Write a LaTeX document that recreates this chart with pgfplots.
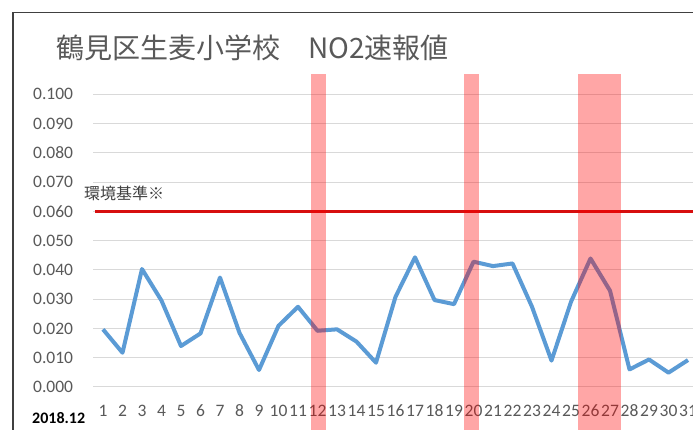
\documentclass[border=0pt]{standalone}
\usepackage{fontspec}
\setmainfont{Carlito}
\newfontfamily\cjk{Noto Sans CJK JP}
\usepackage{pgfplots}
\pgfplotsset{compat=1.18}
\definecolor{tickgray}{HTML}{595959}
\definecolor{gridgray}{HTML}{D9D9D9}
\definecolor{lineblue}{HTML}{5B9BD5}
\definecolor{limred}{RGB}{215,15,15}
\definecolor{framegray}{HTML}{404040}
\begin{document}
\begin{tikzpicture}[x=1pt,y=1pt]
\path[use as bounding box, clip] (0pt,0pt) rectangle (693pt,430pt);
\fill[white] (0pt,0pt) rectangle (693pt,430pt);
\begin{axis}[
  at={(93.25pt,0pt)}, anchor=south west,
  scale only axis, width=604.5pt, height=365pt,
  xmin=0.5, xmax=31.5, ymin=-0.01469, ymax=0.11,
  axis line style={draw=none},
  major tick length=0pt,
  xtick={1,...,31},
  ytick={0,0.01,0.02,0.03,0.04,0.05,0.06,0.07,0.08,0.09,0.1},
  ymajorgrids, grid style={gridgray, line width=1pt},
  /pgf/number format/assume math mode=true,
  yticklabel style={/pgf/number format/fixed, /pgf/number format/fixed zerofill, /pgf/number format/precision=3, anchor=east, inner sep=0pt, xshift=-20pt},
  ticklabel style={font=\fontsize{17.5}{20}\selectfont, text=tickgray},
  xticklabel style={anchor=center, inner sep=0pt, yshift=19pt},
  clip=true,
]
\addplot[limred, line width=3pt, forget plot] coordinates {(0.58,0.06) (31.5,0.06)};
\addplot[lineblue, line width=4pt, line join=round, mark=none] coordinates {
(1,0.0197) (2,0.0117) (3,0.0403) (4,0.0295) (5,0.0140) (6,0.0183) (7,0.0374)
(8,0.0185) (9,0.0058) (10,0.0209) (11,0.0274) (12,0.0192) (13,0.0197)
(14,0.0155) (15,0.0083) (16,0.0308) (17,0.0443) (18,0.0297) (19,0.0283)
(20,0.0428) (21,0.0413) (22,0.0422) (23,0.0274) (24,0.0090) (25,0.0291)
(26,0.0439) (27,0.0329) (28,0.0060) (29,0.0094) (30,0.0049) (31,0.0092)};
\addplot[fill=red, fill opacity=0.35, draw=none] coordinates {(11.65,-0.03) (11.65,0.1069) (12.44,0.1069) (12.44,-0.03)} -- cycle;
\addplot[fill=red, fill opacity=0.35, draw=none] coordinates {(19.53,-0.03) (19.53,0.1069) (20.30,0.1069) (20.30,-0.03)} -- cycle;
\addplot[fill=red, fill opacity=0.35, draw=none] coordinates {(25.36,-0.03) (25.36,0.1069) (27.56,0.1069) (27.56,-0.03)} -- cycle;
\end{axis}
\draw[framegray, line width=1.5pt] (12.75pt,-5pt) -- (12.75pt,417.5pt) -- (700pt,417.5pt);
\node[anchor=west, inner sep=0pt, text=tickgray, font=\cjk\fontsize{28}{30}\selectfont] at (56pt,382pt) {鶴見区生麦小学校　NO2速報値};
\node[anchor=west, inner sep=0pt, text=framegray, font=\cjk\fontsize{16}{18}\selectfont] at (84pt,237pt) {環境基準※};
\node[anchor=west, inner sep=0pt, text=black, font=\bfseries\fontsize{16}{18}\selectfont] at (32pt,12pt) {2018.12};
\end{tikzpicture}
\end{document}
